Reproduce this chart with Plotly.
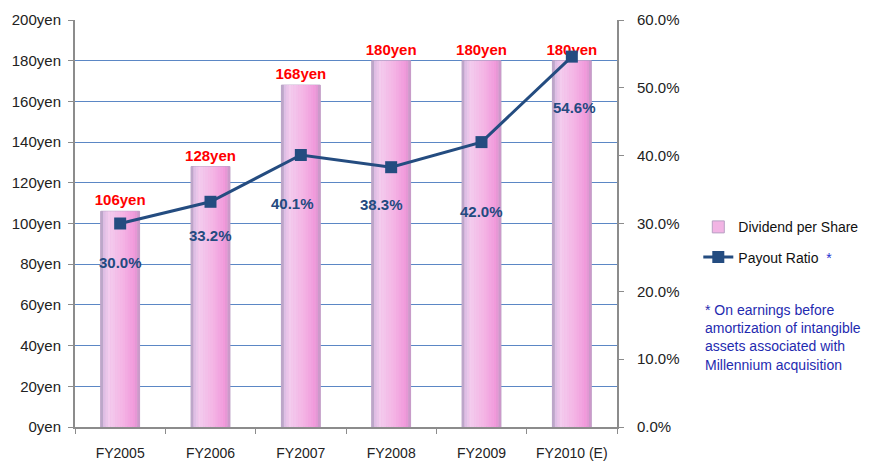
import plotly.graph_objects as go

categories = ["FY2005", "FY2006", "FY2007", "FY2008", "FY2009", "FY2010 (E)"]
dividend = [106, 128, 168, 180, 180, 180]
payout = [30.0, 33.2, 40.1, 38.3, 42.0, 54.6]
yen_ticks = [0, 20, 40, 60, 80, 100, 120, 140, 160, 180, 200]
pct_ticks = [0, 10, 20, 30, 40, 50, 60]

# style: label offsets (pixels) for payout labels
pct_yshift = [-39, -34, -49, -37, -69, -51]
pct_xshift = [0, 0, -8, -10, 0, 3]

FONT = "Liberation Sans"
LINE_BLUE = "#244C80"
BAR_W = 0.43

# horizontal gradient stops for the cylinder-like bars (style)
grad_stops = [(0.0, (0xA8, 0x98, 0xB8)), (0.08, (0xDC, 0xBE, 0xE4)),
              (0.22, (0xF3, 0xCC, 0xEE)), (0.6, (0xF4, 0xB2, 0xE4)),
              (0.88, (0xF0, 0x96, 0xDA)), (1.0, (0xC0, 0x9A, 0xC4))]


def grad_color(t):
    for (t0, c0), (t1, c1) in zip(grad_stops[:-1], grad_stops[1:]):
        if t0 <= t <= t1:
            f = (t - t0) / (t1 - t0) if t1 > t0 else 0
            c = [round(a + (b - a) * f) for a, b in zip(c0, c1)]
            return "rgb(%d,%d,%d)" % tuple(c)
    return "rgb(%d,%d,%d)" % grad_stops[-1][1]


fig = go.Figure()

fig.add_trace(go.Bar(
    x=categories, y=dividend, name="Dividend per Share", legendgroup="div",
    width=BAR_W,
    marker=dict(color="#F2B4E4", line=dict(color="#B8A0C4", width=1)),
    text=[f"{v}yen" for v in dividend], textposition="outside",
    constraintext="none",
    textfont=dict(color="#FF0000", size=15, family=FONT),
    texttemplate="<b>%{text}</b>",
    cliponaxis=False,
    yaxis="y",
))

N = 16
sw = BAR_W / N
for i in range(N):
    t = (i + 0.5) / N
    fig.add_trace(go.Bar(
        x=categories, y=dividend, width=sw * 1.05, offset=-BAR_W / 2 + i * sw,
        marker=dict(color=grad_color(t), line=dict(width=0)),
        showlegend=False, hoverinfo="skip", yaxis="y", legendgroup="div",
    ))

fig.add_trace(go.Scatter(
    x=categories, y=payout, name="Payout Ratio  <span style='color:#1F2FD0'>*</span>",
    legendgroup="pay",
    mode="lines+markers", yaxis="y2",
    line=dict(color=LINE_BLUE, width=3),
    marker=dict(symbol="square", size=12, color=LINE_BLUE),
    cliponaxis=False,
))

for c, p, dy, dx in zip(categories, payout, pct_yshift, pct_xshift):
    fig.add_annotation(x=c, y=p, yref="y2", text=f"<b>{p:.1f}%</b>",
                       showarrow=False, yshift=dy, xshift=dx,
                       font=dict(color="#234A80", size=15, family=FONT))

fig.add_annotation(
    xref="paper", yref="paper", x=1.158, y=0.311, xanchor="left", yanchor="top",
    align="left", showarrow=False,
    text="* On earnings before<br>amortization of intangible<br>assets associated with<br>Millennium acquisition",
    font=dict(color="#1F2BB0", size=14, family="Liberation Sans"),
)

fig.update_layout(
    width=881, height=461,
    margin=dict(l=75, r=264, t=20, b=34, autoexpand=False),
    paper_bgcolor="white", plot_bgcolor="white",
    barmode="overlay",
    font=dict(family=FONT, size=15, color="#222222"),
    showlegend=True,
    legend=dict(x=1.15, y=0.53, xanchor="left", yanchor="top",
                font=dict(size=14, family=FONT, color="#111111"),
                tracegroupgap=9),
    xaxis=dict(showgrid=False, showline=True, linecolor="#8C8C8C", linewidth=2,
               ticks="outside", tickson="boundaries", ticklen=5, tickcolor="#8C8C8C",
               ticklabelstandoff=12, automargin=False,
               tickfont=dict(size=14, color="#222222")),
    yaxis=dict(range=[0, 200], tickvals=yen_ticks,
               ticktext=[f"{v}yen" for v in yen_ticks],
               showgrid=True, gridcolor="#5B87C5", gridwidth=1,
               showline=True, linecolor="#8C8C8C", linewidth=2,
               ticks="outside", ticklen=5, tickcolor="#8C8C8C",
               automargin=False, ticklabelstandoff=4,
               zeroline=False, tickfont=dict(size=15, color="#222222")),
    yaxis2=dict(range=[0, 60], tickvals=pct_ticks, overlaying="y", side="right",
                ticktext=[f"{v:.1f}%" for v in pct_ticks],
                showgrid=False, showline=True, linecolor="#8C8C8C", linewidth=2,
                ticks="outside", ticklen=5, tickcolor="#8C8C8C",
                ticklabelstandoff=10, automargin=False,
                zeroline=False, tickfont=dict(size=15, color="#222222")),
)

fig.write_html("out.html", config={"displayModeBar": False},
               post_script="document.body.style.margin='0';document.body.style.overflow='hidden';")
